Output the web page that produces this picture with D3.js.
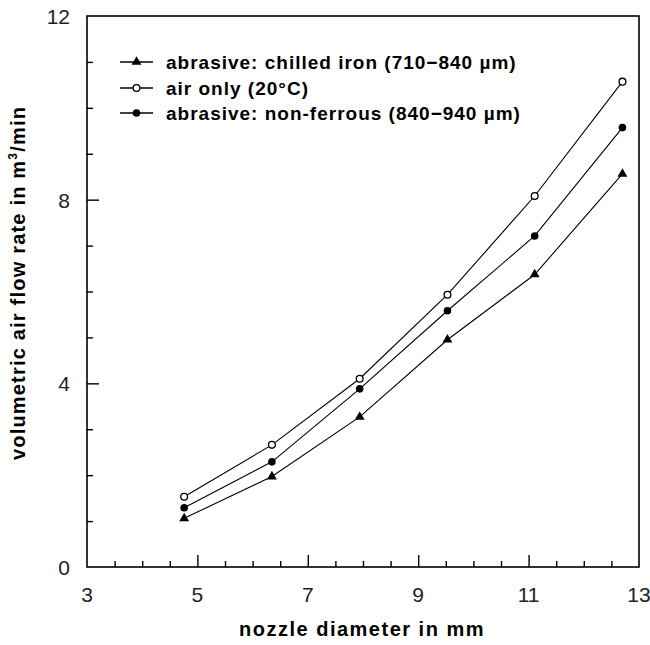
<!DOCTYPE html>
<html>
<head>
<meta charset="utf-8">
<script src="https://cdn.jsdelivr.net/npm/d3@7"></script>
<style>
  html, body { margin: 0; padding: 0; background: #fff; }
  svg { display: block; }
</style>
</head>
<body>
<svg id="chart" width="650" height="645"></svg>
<script>
// Nozzle diameters (mm)
const diameters = [4.76, 6.35, 7.94, 9.53, 11.11, 12.7];
// Volumetric air flow rate (m³/min)
const chilledIron = [1.06, 1.97, 3.27, 4.95, 6.37, 8.56];
const airOnly     = [1.53, 2.66, 4.10, 5.93, 8.08, 10.57];
const nonFerrous  = [1.29, 2.29, 3.88, 5.58, 7.21, 9.57];

const seriesNames = [
  "abrasive: chilled iron (710\u2212840 \u00b5m)",
  "air only (20\u00b0C)",
  "abrasive: non-ferrous (840\u2212940 \u00b5m)"
];
const seriesMarkers = ["triangle", "open", "filled"];

const xMajorTicks = [3, 5, 7, 9, 11, 13];
const yMajorTicks = [0, 4, 8, 12];

const svg = d3.select("#chart");
const plotLeft = 87, plotRight = 639, plotTop = 16, plotBottom = 567;

const x = d3.scaleLinear().domain([3, 13]).range([plotLeft, plotRight]);
const y = d3.scaleLinear().domain([0, 12]).range([plotBottom, plotTop]);

const tickFont = "'Liberation Sans Narrow', 'Liberation Sans', Arial, sans-serif";
const boldFont = "'Liberation Sans', Arial, sans-serif";

// Frame
svg.append("rect")
  .attr("x", plotLeft).attr("y", plotTop)
  .attr("width", plotRight - plotLeft).attr("height", plotBottom - plotTop)
  .attr("fill", "none").attr("stroke", "#000").attr("stroke-width", 1.6);

// Bottom axis: ticks point inward
const xMinor = d3.range(3.5, 13, 0.5).filter(v => !xMajorTicks.includes(v));
const gx = svg.append("g").attr("transform", `translate(0,${plotBottom})`);
gx.call(d3.axisTop(x).tickValues(xMinor).tickSize(6).tickFormat(""));
gx.append("g").call(d3.axisTop(x).tickValues(xMajorTicks.slice(1, -1)).tickSize(12).tickFormat(""));
gx.selectAll(".domain").remove();
gx.selectAll("line").attr("stroke", "#000").attr("stroke-width", 1.4);

svg.append("g").selectAll("text").data(xMajorTicks).join("text")
  .attr("x", d => x(d)).attr("y", 602)
  .attr("text-anchor", "middle")
  .attr("font-family", tickFont).attr("font-size", 21).attr("fill", "#222")
  .text(d => d);

// Left axis: ticks point inward
const yMinor = d3.range(1, 12, 1).filter(v => !yMajorTicks.includes(v));
const gy = svg.append("g").attr("transform", `translate(${plotLeft},0)`);
gy.call(d3.axisRight(y).tickValues(yMinor).tickSize(6).tickFormat(""));
gy.append("g").call(d3.axisRight(y).tickValues(yMajorTicks.slice(1, -1)).tickSize(12).tickFormat(""));
gy.selectAll(".domain").remove();
gy.selectAll("line").attr("stroke", "#000").attr("stroke-width", 1.4);

svg.append("g").selectAll("text").data(yMajorTicks).join("text")
  .attr("x", 70).attr("y", d => y(d) + 8)
  .attr("text-anchor", "end")
  .attr("font-family", tickFont).attr("font-size", 21).attr("fill", "#222")
  .text(d => d);

// Axis titles
svg.append("text")
  .attr("x", 362).attr("y", 636)
  .attr("text-anchor", "middle")
  .attr("font-family", boldFont).attr("font-weight", "bold").attr("font-size", 20)
  .attr("letter-spacing", 1.5)
  .text("nozzle diameter in mm");

const yTitle = svg.append("text")
  .attr("transform", "translate(25,283) rotate(-90)")
  .attr("text-anchor", "middle")
  .attr("font-family", boldFont).attr("font-weight", "bold").attr("font-size", 20)
  .attr("letter-spacing", 1.2);
yTitle.append("tspan").text("volumetric air flow rate in m");
yTitle.append("tspan").attr("font-size", 12).attr("dy", -8).text("3");
yTitle.append("tspan").attr("dy", 8).text("/min");

// Markers
const triangle = d3.symbol().type(d3.symbolTriangle).size(42);
function drawMarker(g, kind, cx, cy) {
  if (kind === "triangle") {
    g.append("path").attr("d", triangle())
      .attr("transform", `translate(${cx},${cy})`).attr("fill", "#000");
  } else if (kind === "filled") {
    g.append("circle").attr("cx", cx).attr("cy", cy).attr("r", 3.8).attr("fill", "#000");
  } else {
    g.append("circle").attr("cx", cx).attr("cy", cy).attr("r", 3.4)
      .attr("fill", "#fff").attr("stroke", "#000").attr("stroke-width", 1.3);
  }
}

const series = [chilledIron, airOnly, nonFerrous];
const line = d3.line().x(d => x(d[0])).y(d => y(d[1]));

series.forEach((vals, i) => {
  const pts = diameters.map((d, j) => [d, vals[j]]);
  const g = svg.append("g");
  g.append("path").attr("d", line(pts))
    .attr("fill", "none").attr("stroke", "#000").attr("stroke-width", 1.1);
  pts.forEach(p => drawMarker(g, seriesMarkers[i], x(p[0]), y(p[1])));
});

// Legend
const legendRows = [62, 88, 113];
seriesNames.forEach((name, i) => {
  const g = svg.append("g");
  const ly = legendRows[i];
  g.append("line").attr("x1", 120).attr("x2", 153).attr("y1", ly).attr("y2", ly)
    .attr("stroke", "#000").attr("stroke-width", 1.3);
  drawMarker(g, seriesMarkers[i], 136.5, ly);
  g.append("text").attr("x", 166).attr("y", ly + 7)
    .attr("font-family", boldFont).attr("font-weight", "bold").attr("font-size", 19)
    .attr("letter-spacing", 1)
    .text(name);
});
</script>
</body>
</html>
